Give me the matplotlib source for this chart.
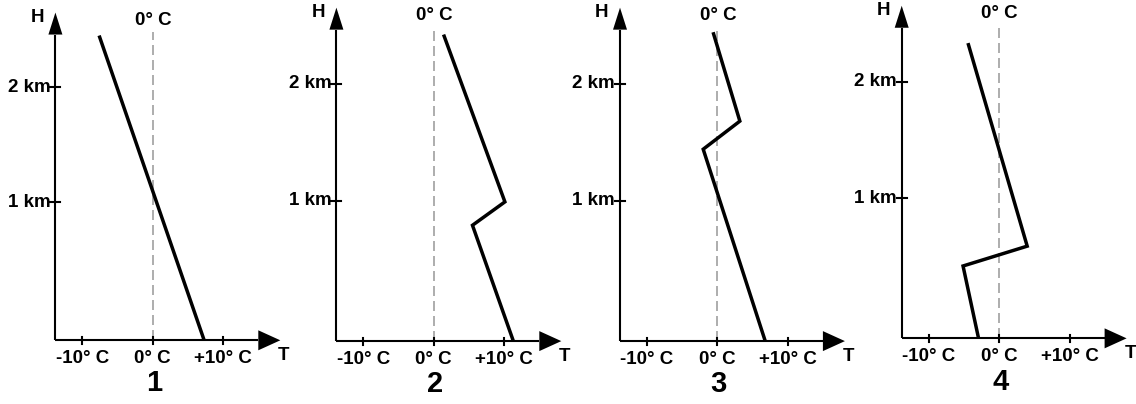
import matplotlib
matplotlib.use("Agg")
import matplotlib.pyplot as plt

plt.rcParams['font.family'] = ['Liberation Sans', 'DejaVu Sans']

# Data: temperature (°C) vs height (km) profiles, ground level at -0.2 km on drawing
panel_labels = ["1", "2", "3", "4"]
temps = [
    [7.3, -7.6],
    [11.3, 5.5, 10.1, 1.4],
    [6.8, -2.0, 3.2, -0.6],
    [-2.9, -5.1, 4.0, -4.4],
]
heights = [
    [-0.2, 2.45],
    [-0.2, 0.79, 0.99, 2.42],
    [-0.2, 1.44, 1.68, 2.44],
    [-0.2, 0.42, 0.59, 2.33],
]
x_ticks = [-10, 0, 10]
x_tick_labels = ["-10° C", "0° C", "+10° C"]
y_ticks = [1, 2]
y_tick_labels = ["1 km", "2 km"]

# Layout (pixels): x of 0°C, y of H=0, px per km
W, H = 1136, 404
x0s = [152.7, 433.7, 717.3, 999.0]
y0s = [317.3, 317.7, 317.7, 315.0]
sys_ = [115.0, 117.0, 117.0, 116.7]
sx = 7.05
xlim = (-20, 20)
ylim = (-0.75, 2.8)

fig = plt.figure(figsize=(W / 100, H / 100), dpi=100)

T_LEFT = -13.8
H_BOT = -0.2
H_TIP = 2.65
T_TIP = 18.1
FS = 13.5
bold = dict(fontweight='bold', color='black')

for i in range(4):
    sy = sys_[i]
    left = x0s[i] + xlim[0] * sx
    width = (xlim[1] - xlim[0]) * sx
    bottom_px = y0s[i] - ylim[0] * sy
    height = (ylim[1] - ylim[0]) * sy
    ax = fig.add_axes([left / W, 1 - bottom_px / H, width / W, height / H])
    ax.set_xlim(*xlim)
    ax.set_ylim(*ylim)
    ax.axis('off')
    ax.patch.set_alpha(0)

    aw_y = 14 / sx / 2      # half width of y arrow (°C)
    al_y = 22 / sy          # length of y arrow (km)
    aw_x = 10 / sy          # half height of x arrow (km)
    al_x = 22 / sx          # length of x arrow (°C)

    # axes lines
    ax.plot([T_LEFT, T_LEFT], [H_BOT, H_TIP - al_y], color='black', lw=1.5,
            solid_capstyle='butt', clip_on=False)
    ax.plot([T_LEFT, T_TIP - al_x], [H_BOT, H_BOT], color='black', lw=1.5,
            solid_capstyle='butt', clip_on=False)
    ax.fill([T_LEFT - aw_y, T_LEFT + aw_y, T_LEFT],
            [H_TIP - al_y, H_TIP - al_y, H_TIP], color='black', lw=0, clip_on=False)
    ax.fill([T_TIP - al_x, T_TIP - al_x, T_TIP],
            [H_BOT - aw_x, H_BOT + aw_x, H_BOT], color='black', lw=0, clip_on=False)

    # 0 °C dashed line
    ax.plot([0, 0], [H_BOT, 2.48], color='#a0a0a0', lw=1.2, ls=(0, (6, 3)))

    # x ticks and labels
    for t, lab in zip(x_ticks, x_tick_labels):
        ax.plot([t, t], [H_BOT - 3.5 / sy, H_BOT + 3.5 / sy], color='black', lw=1.5)
        ax.text(t, H_BOT - 18 / sy, lab, ha='center', va='center', fontsize=FS, **bold)
    # y ticks and labels
    for h, lab in zip(y_ticks, y_tick_labels):
        ax.plot([T_LEFT - 5 / sx, T_LEFT + 5 / sx], [h, h], color='black', lw=1.5)
        ax.text(T_LEFT - 5 / sx, h, lab, ha='right', va='center', fontsize=FS, **bold)

    ax.text(0.1, 2.58, "0° C", ha='center', va='center', fontsize=FS, **bold)
    ax.text(-16.4, 2.61, "H", ha='center', va='center', fontsize=FS, **bold)
    ax.text(18.6, H_BOT - 15 / sy, "T", ha='center', va='center', fontsize=FS, **bold)
    ax.text(0.2, -0.57, panel_labels[i], ha='center', va='center', fontsize=21, **bold)

    # temperature profile
    ax.plot(temps[i], heights[i], color='black', lw=2.5, solid_joinstyle='miter',
            solid_capstyle='butt', clip_on=False)

fig.savefig("out.png", dpi=100, facecolor='white')
